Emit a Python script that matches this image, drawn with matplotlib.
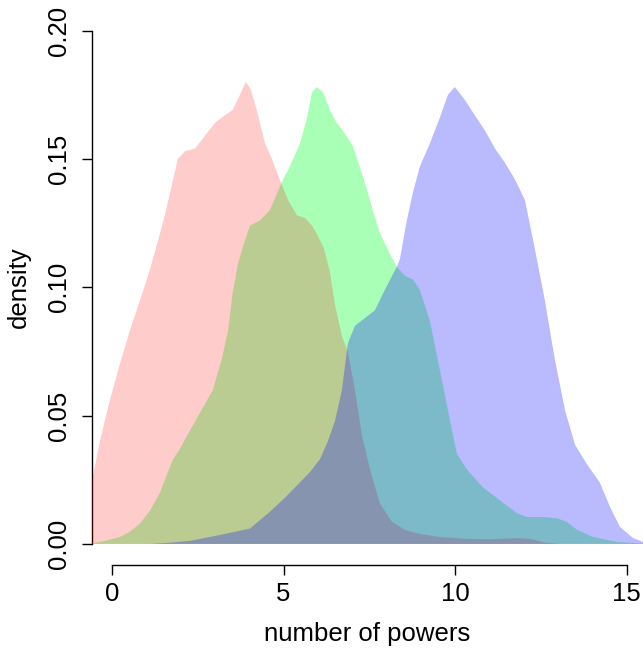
import matplotlib
matplotlib.use("Agg")
import matplotlib.pyplot as plt

plt.rcParams['font.family'] = ['Liberation Sans', 'DejaVu Sans']

# density curves
red_x = [-0.7, -0.58, -0.35, -0.06, 0.23, 0.52, 0.82, 1.11, 1.34, 1.54, 1.75, 1.92, 2.13, 2.42,
         2.71, 3.0, 3.29, 3.52, 3.73, 3.9, 4.05, 4.22, 4.46, 4.66, 4.89, 5.13, 5.39, 5.62, 5.83,
         6.0, 6.18, 6.35, 6.5, 6.7, 6.87, 7.08, 7.28, 7.52, 7.8, 8.16, 8.53, 8.97, 9.55, 10.34,
         11.0, 11.8, 12.2, 12.6, 13.05]
red_y = [0.021, 0.0245, 0.040, 0.056, 0.070, 0.083, 0.095, 0.107, 0.118, 0.128, 0.140, 0.150,
         0.153, 0.154, 0.159, 0.164, 0.167, 0.169, 0.175, 0.180, 0.177, 0.169, 0.156, 0.150,
         0.142, 0.134, 0.128, 0.127, 0.124, 0.120, 0.115, 0.106, 0.093, 0.081, 0.075, 0.060,
         0.0425, 0.029, 0.016, 0.0086, 0.0055, 0.0039, 0.0027, 0.002, 0.0018, 0.0023, 0.002,
         0.0006, 0.0]

green_x = [-0.93, -0.58, -0.2, 0.23, 0.52, 0.82, 1.11, 1.4, 1.6, 1.78, 1.98, 2.18, 2.56, 2.94,
           3.2, 3.38, 3.52, 3.67, 3.82, 4.02, 4.31, 4.6, 4.95, 5.18, 5.48, 5.68, 5.83, 5.97,
           6.15, 6.35, 6.55, 6.73, 7.02, 7.22, 7.43, 7.6, 7.81, 8.1, 8.3, 8.53, 8.77, 8.97,
           9.26, 9.55, 9.85, 10.05, 10.34, 10.81, 11.3, 11.8, 12.09, 12.55, 12.96, 13.25,
           13.55, 14.01, 14.71, 15.18, 15.67]
green_y = [0.0, 0.0003, 0.0012, 0.0027, 0.0047, 0.008, 0.013, 0.020, 0.027, 0.033, 0.037,
           0.042, 0.051, 0.060, 0.072, 0.083, 0.098, 0.109, 0.116, 0.124, 0.126, 0.130, 0.141,
           0.147, 0.156, 0.166, 0.176, 0.178, 0.176, 0.169, 0.164, 0.161, 0.155, 0.147, 0.138,
           0.130, 0.121, 0.113, 0.108, 0.1045, 0.103, 0.099, 0.087, 0.068, 0.048, 0.035, 0.029,
           0.022, 0.017, 0.012, 0.0105, 0.0105, 0.010, 0.0086, 0.0055, 0.0027, 0.0008, 0.0004,
           0.0]

blue_x = [1.1, 1.6, 2.27, 3.15, 4.02, 4.6, 5.04, 5.48, 5.77, 6.06, 6.29, 6.5, 6.7, 6.87, 7.08,
          7.37, 7.66, 7.95, 8.3, 8.39, 8.59, 8.77, 8.97, 9.26, 9.55, 9.79, 9.99, 10.28, 10.57,
          10.87, 11.16, 11.45, 11.74, 12.03, 12.32, 12.61, 12.9, 13.2, 13.49, 13.84, 14.21,
          14.51, 14.8, 15.18, 15.47, 15.96]
blue_y = [0.0, 0.0004, 0.0012, 0.0035, 0.006, 0.0125, 0.018, 0.024, 0.028, 0.033, 0.040,
          0.048, 0.060, 0.078, 0.085, 0.088, 0.091, 0.099, 0.108, 0.111, 0.126, 0.137, 0.147,
          0.156, 0.166, 0.175, 0.178, 0.173, 0.167, 0.161, 0.154, 0.1485, 0.142, 0.134, 0.115,
          0.095, 0.072, 0.052, 0.0386, 0.031, 0.024, 0.0144, 0.0066, 0.0023, 0.0008, 0.0]

x_ticks = [0, 5, 10, 15]
y_ticks = [0.00, 0.05, 0.10, 0.15, 0.20]
y_tick_labels = ["0.00", "0.05", "0.10", "0.15", "0.20"]

fig = plt.figure(figsize=(6.43, 6.49), dpi=100)
ax = fig.add_axes([92 / 643, 84 / 649, 1 - 92 / 643, (565 - 10) / 649])

ax.fill_between(green_x, green_y, 0, facecolor=(0.0, 1.0, 0.16, 0.333), edgecolor='none', zorder=3)
ax.fill_between(red_x, red_y, 0, facecolor=(1.0, 0.0, 0.0, 0.2), edgecolor='none', zorder=4)
ax.fill_between(blue_x, blue_y, 0, facecolor=(0.0, 0.0, 1.0, 0.27), edgecolor='none', zorder=5)

ax.set_xlim(-0.58, 15.47)
ax.set_ylim(-0.0082, 0.208)

for s in ['top', 'right']:
    ax.spines[s].set_visible(False)
for s in ['left', 'bottom']:
    ax.spines[s].set_linewidth(1.0)
    ax.spines[s].set_zorder(1)
ax.spines['left'].set_bounds(0, 0.20)
ax.spines['bottom'].set_bounds(0, 15)

ax.set_xticks(x_ticks)
ax.set_xticklabels([str(t) for t in x_ticks])
ax.set_yticks(y_ticks)
ax.set_yticklabels(y_tick_labels, rotation=90, va='center')
ax.tick_params(axis='both', length=7, width=1.0, labelsize=18.5, direction='out')
ax.tick_params(axis='x', pad=5)
ax.tick_params(axis='y', pad=8)

ax.set_xlabel("number of powers", fontsize=18.5, labelpad=12)
ax.set_ylabel("density", fontsize=18.5, labelpad=12)

fig.savefig("out.png", dpi=100)
